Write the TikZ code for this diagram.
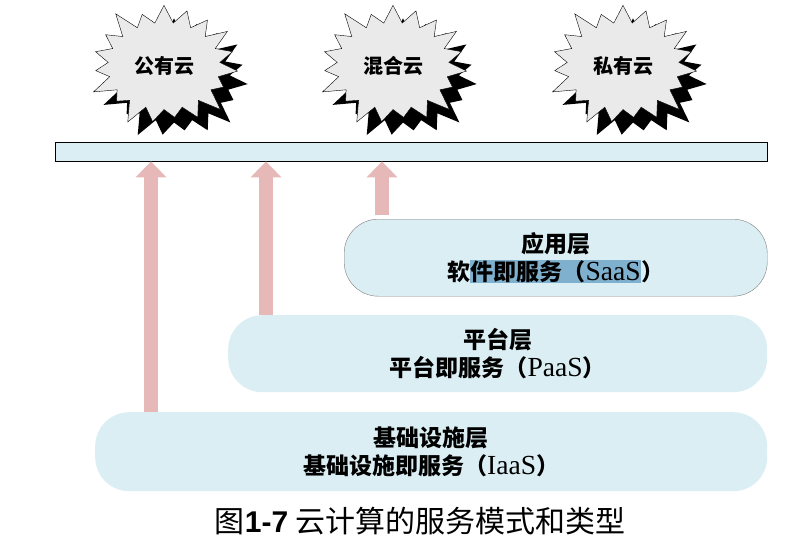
\documentclass[tikz,border=0pt]{standalone}
\usepackage{fontspec}
\setmainfont{Noto Sans CJK SC}
\newfontfamily\latinserif[Scale=1.2]{Liberation Serif}
\newfontfamily\latinsans{Liberation Sans}
\usetikzlibrary{shapes.symbols, shadows, arrows.meta}
\definecolor{barblue}{HTML}{DBEEF4}
\definecolor{layerblue}{HTML}{DAEEF3}
\definecolor{arrowpink}{HTML}{E6B9B8}
\definecolor{burstgray}{HTML}{EAEAEA}
\definecolor{selblue}{HTML}{7FB0CE}
\newcommand{\selhl}[1]{{\setlength{\fboxsep}{0.6pt}\colorbox{selblue}{#1}}}

\tikzset{
  burst/.style={starburst, starburst points=19, starburst point height=24pt,
    random starburst=100, fill=burstgray, draw=black, thin,
    minimum width=160pt, minimum height=135pt, inner sep=0pt,
    font=\fontsize{20}{20}\selectfont\bfseries,
    drop shadow={fill=black, opacity=1, shadow xshift=10pt, shadow yshift=-13pt}},
  layer/.style={fill=layerblue, anchor=north west, rounded corners=34pt,
    align=center, font=\fontsize{23}{28}\selectfont\bfseries},
  uparrow/.style={draw=arrowpink, line width=14pt,
    -{Triangle[width=30pt, length=16pt]}}
}

\begin{document}
\begin{tikzpicture}[x=1pt, y=-1pt]
  \useasboundingbox (0,0) rectangle (791,538);

  \node[burst] (public) at (164,66) {公有云};
  \node[burst] (hybrid) at (393,66) {混合云};
  \node[burst] (private) at (623,66) {私有云};

  \node[draw, fill=barblue, anchor=north west, minimum width=712pt,
    minimum height=19pt, inner sep=0pt] (bar) at (55,142) {};

  \node[layer, draw=gray, minimum width=423pt, minimum height=77pt] (saas) at (344,219)
    {应用层\\软\selhl{件即服务（{\latinserif\mdseries SaaS}}）};
  \node[layer, minimum width=539pt, minimum height=77pt] (paas) at (228,315)
    {平台层\\平台即服务（{\latinserif\mdseries PaaS}）};
  \node[layer, minimum width=672pt, minimum height=79pt] (iaas) at (95,412)
    {基础设施层\\基础设施即服务（{\latinserif\mdseries IaaS}）};

  \draw[uparrow] (iaas.north -| 151,0) -- (bar.south -| 151,0);
  \draw[uparrow] (paas.north -| 266,0) -- (bar.south -| 266,0);
  \draw[uparrow, shorten <=4pt] (saas.north -| 382,0) -- (bar.south -| 382,0);

  \node (caption) at (420,521) {\fontsize{30}{30}\selectfont 图{\latinsans\bfseries 1-7} 云计算的服务模式和类型};
\end{tikzpicture}
\end{document}
